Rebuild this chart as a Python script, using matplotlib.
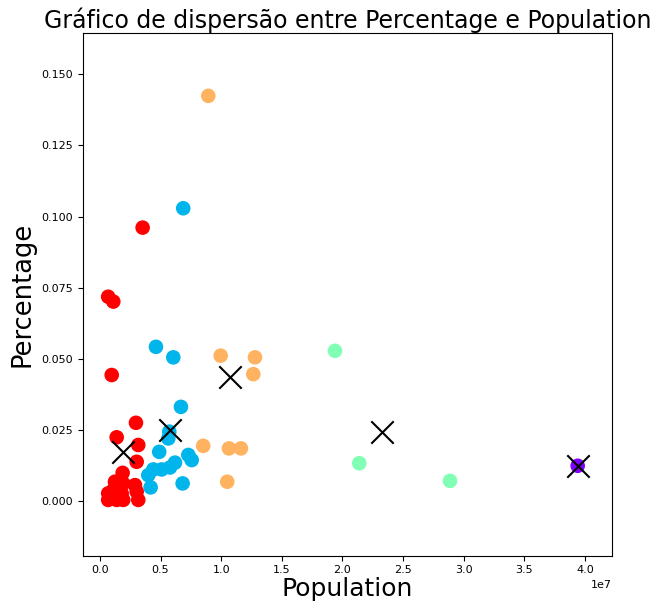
import numpy as np
import matplotlib
matplotlib.use('Agg')
import matplotlib.pyplot as plt

# pontos por cluster (Population, Percentage)
# cluster 0 - roxo
pop_0 = [3.941e7]
pct_0 = [0.0124]

# cluster 1 - azul
pop_1 = [0.687e7, 0.462e7, 0.605e7, 0.668e7, 0.572e7, 0.564e7, 0.489e7, 0.729e7,
         0.757e7, 0.619e7, 0.578e7, 0.509e7, 0.440e7, 0.399e7, 0.418e7, 0.682e7]
pct_1 = [0.1029, 0.0542, 0.0505, 0.0331, 0.0244, 0.0220, 0.0173, 0.0162,
         0.0144, 0.0135, 0.0118, 0.0111, 0.0111, 0.0091, 0.0048, 0.0062]

# cluster 2 - verde
pop_2 = [1.939e7, 2.139e7, 2.888e7]
pct_2 = [0.0528, 0.0133, 0.0071]

# cluster 3 - laranja
pop_3 = [0.894e7, 0.996e7, 1.279e7, 1.265e7, 0.852e7, 1.064e7, 1.163e7, 1.050e7]
pct_3 = [0.1424, 0.0511, 0.0505, 0.0446, 0.0194, 0.0185, 0.0185, 0.0068]

# cluster 4 - vermelho
pop_4 = [0.352e7, 0.068e7, 0.110e7, 0.097e7, 0.297e7, 0.138e7, 0.316e7, 0.303e7,
         0.187e7, 0.124e7, 0.192e7, 0.110e7, 0.068e7, 0.179e7, 0.068e7, 0.138e7,
         0.192e7, 0.289e7, 0.303e7, 0.316e7]
pct_4 = [0.0961, 0.0718, 0.0701, 0.0443, 0.0275, 0.0224, 0.0197, 0.0138,
         0.0099, 0.0068, 0.0062, 0.0039, 0.0027, 0.0027, 0.0004, 0.0004,
         0.0004, 0.0056, 0.0033, 0.0004]

# centroides (X pretos)
cent_pop = [3.941e7, 0.578e7, 2.324e7, 1.073e7, 0.192e7]
cent_pct = [0.0124, 0.0250, 0.0244, 0.0437, 0.0173]

pops = [pop_0, pop_1, pop_2, pop_3, pop_4]
pcts = [pct_0, pct_1, pct_2, pct_3, pct_4]

x = np.concatenate(pops)
y = np.concatenate(pcts)
labels = np.concatenate([[k] * len(p) for k, p in enumerate(pops)])

fig = plt.figure(figsize=(6.57, 6.04), dpi=100)
ax = fig.add_axes([0.1263, 0.0800, 0.8048, 0.8654])

ax.scatter(x, y, c=labels, cmap='rainbow', vmin=0, vmax=4, s=90)
ax.scatter(cent_pop, cent_pct, marker='x', color='black', s=260, linewidths=1.5)

ax.set_xlim(-0.14e7, 4.222e7)
ax.set_ylim(-0.0192, 0.1645)
ax.set_yticks([0.0, 0.025, 0.05, 0.075, 0.1, 0.125, 0.15])

ax.tick_params(labelsize=8)
ax.xaxis.get_offset_text().set_fontsize(8)

ax.set_title('Gráfico de dispersão entre Percentage e Population', fontsize=17, pad=3)
ax.set_xlabel('Population', fontsize=18, labelpad=1)
ax.set_ylabel('Percentage', fontsize=18.5)

plt.savefig('out.png', dpi=100)
